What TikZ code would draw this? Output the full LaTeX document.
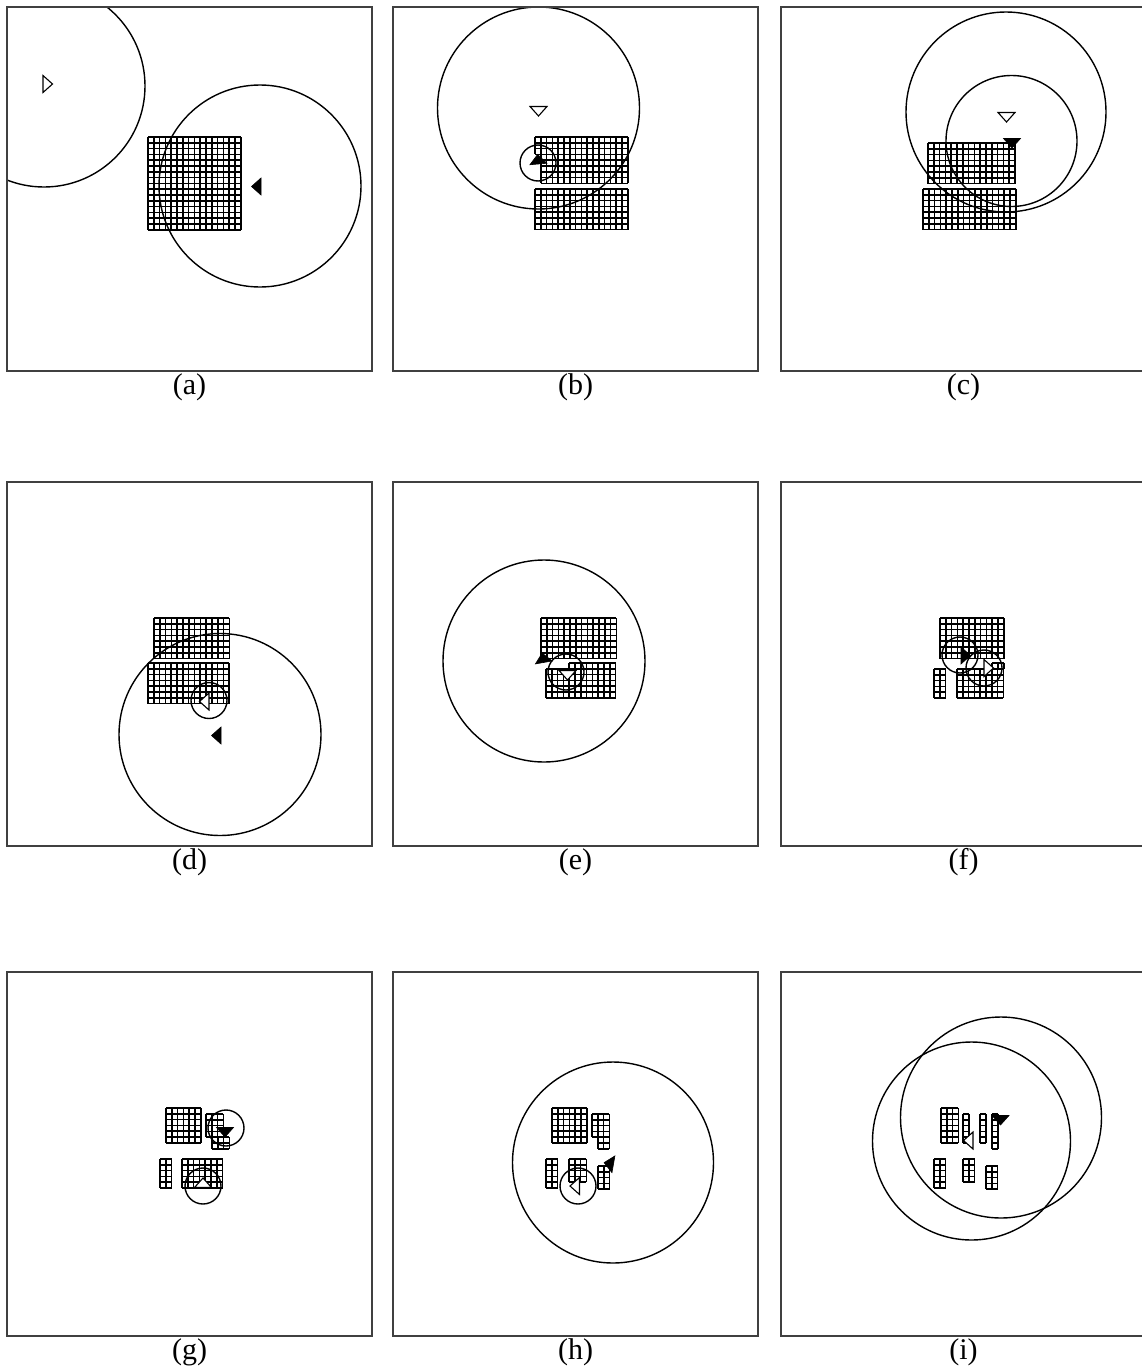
\documentclass[tikz,border=0pt]{standalone}
\usepackage{fontspec}
\setmainfont{Liberation Serif}
\def\cs{5.8}
\tikzset{
  gridline/.style={black, line width=1.7pt},
  circ/.style={black, line width=1.4pt},
  frame/.style={black!75, line width=1.1pt},
  opentri/.style={draw=black, fill=white, line width=1.1pt, line join=miter},
  filltri/.style={draw=black, fill=black, line width=0.6pt},
  captext/.style={font=\fontsize{30}{34}\selectfont, inner sep=0pt}
}
% block of cells: x y cols rows (pixel coords, top-left)
\newcommand\blk[4]{%
  \foreach \i in {0,...,#3} \draw[gridline] ({#1+\i*\cs},#2) -- ++(0,{#4*\cs});
  \foreach \j in {0,...,#4} \draw[gridline] (#1,{#2+\j*\cs}) -- ++({#3*\cs},0);
}
% triangle: x y direction style
\newcommand\tri[4]{%
  \draw[#4, shift={(#1,#2)}, rotate=#3] (5,0) -- (-4.5,8.5) -- (-4.5,-8.5) -- cycle;
}
\newcommand\ring[3]{\draw[circ] (#1,#2) circle (#3pt);}
% panel: x0 y0 label content
\newcommand\panel[4]{%
  \begin{scope}
    \clip (#1,#2) rectangle ++(365,364);
    #4
  \end{scope}
  \draw[frame] (#1,#2) rectangle ++(365,364);
  \node[captext] (cap#3) at ({#1+182.5},{#2+380}) {(#3)};
}
\begin{document}
\begin{tikzpicture}[x=1pt,y=-1pt]
\useasboundingbox (0,0) rectangle (1141,1371);
% ---------- row 1 ----------
\panel{7}{7}{a}{%
  \blk{148}{137}{16}{16}
  \ring{44}{86}{101}
  \ring{260}{186}{101}
  \tri{47.5}{84}{0}{opentri}
  \tri{256.5}{186.5}{180}{filltri}
}
\panel{393}{7}{b}{%
  \blk{535}{137}{1}{3}
  \blk{540.8}{137}{15}{8}
  \blk{535}{189}{16}{7}
  \ring{538.5}{108}{101}
  \ring{538}{163}{18}
  \tri{538.5}{111}{270}{opentri}
  \tri{538}{159.5}{95}{filltri}
}
\panel{781}{7}{c}{%
  \blk{928}{143}{15}{7}
  \blk{923}{189}{16}{7}
  \ring{1006}{112}{100}
  \ring{1011.5}{141}{65.5}
  \tri{1006.5}{117}{270}{opentri}
  \tri{1012}{143}{270}{filltri}
}
% ---------- row 2 ----------
\panel{7}{482}{d}{%
  \blk{154}{618}{13}{7}
  \blk{148}{663}{14}{7}
  \ring{220}{734.5}{101}
  \ring{209}{700.5}{18}
  \tri{216.5}{735.5}{180}{filltri}
  \tri{204.5}{701.5}{180}{opentri}
}
\panel{393}{482}{e}{%
  \blk{541}{618}{13}{7}
  \blk{546}{668.8}{12}{5}
  \blk{569.2}{663}{8}{1}
  \ring{544}{661}{101}
  \ring{566}{672}{18}
  \tri{543}{658}{100}{filltri}
  \tri{567.5}{675}{270}{opentri}
}
\panel{781}{482}{f}{%
  \blk{940}{618}{11}{7}
  \blk{934}{669}{2}{5}
  \blk{957}{669}{8}{5}
  \blk{992.2}{663.2}{2}{1}
  \ring{960}{655}{18}
  \ring{984}{668}{18}
  \tri{965.5}{655.5}{0}{filltri}
  \tri{988.5}{668}{0}{opentri}
}
% ---------- row 3 ----------
\panel{7}{972}{g}{%
  \blk{166}{1108}{6}{6}
  \blk{206}{1114}{3}{4}
  \blk{212}{1137.2}{3}{2}
  \blk{160}{1159}{2}{5}
  \blk{182}{1159}{7}{5}
  \ring{226}{1128}{18}
  \ring{203}{1186}{18}
  \tri{225}{1132}{270}{filltri}
  \tri{203}{1183}{90}{opentri}
}
\panel{393}{972}{h}{%
  \blk{552}{1108}{6}{6}
  \blk{592}{1114}{3}{4}
  \blk{597.8}{1137.2}{2}{2}
  \blk{546}{1159}{2}{5}
  \blk{569}{1159}{3}{4}
  \blk{598}{1166}{2}{4}
  \ring{613}{1162.5}{100.5}
  \ring{578}{1186}{18}
  \tri{609}{1163.5}{170}{filltri}
  \tri{575}{1186}{180}{opentri}
}
\panel{781}{972}{i}{%
  \blk{941}{1108}{3}{6}
  \blk{963}{1114}{1}{5}
  \blk{980}{1114}{1}{5}
  \blk{992}{1114}{1}{6}
  \blk{934}{1159}{2}{5}
  \blk{963}{1159}{2}{4}
  \blk{986}{1166}{2}{4}
  \ring{1001}{1117.5}{100.5}
  \ring{971.5}{1141}{99}
  \tri{968.5}{1140.5}{180}{opentri}
  \tri{1000.5}{1120}{270}{filltri}
}
\end{tikzpicture}
\end{document}
